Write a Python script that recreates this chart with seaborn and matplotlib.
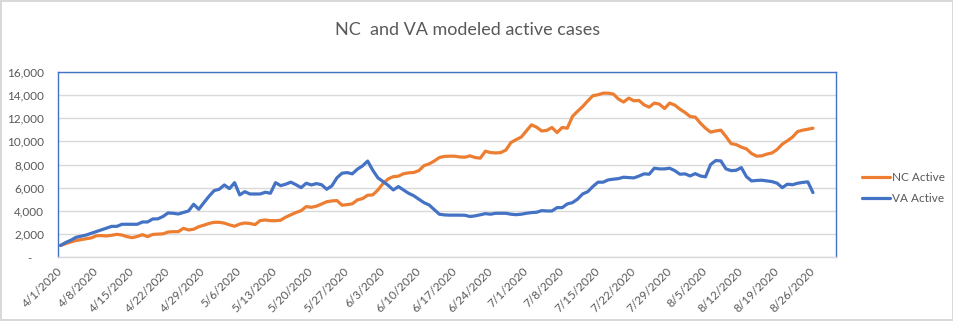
import numpy as np
import pandas as pd
import matplotlib
matplotlib.use("Agg")
import matplotlib.pyplot as plt
from matplotlib.ticker import FuncFormatter, FixedLocator
import seaborn as sns

# Daily modeled active cases, 4/1/2020 through 8/26/2020
start_date = "2020-04-01"
nc_active = [
    1000, 1150, 1300, 1420, 1500, 1580, 1650, 1840, 1850, 1820,
    1880, 1960, 1900, 1760, 1670, 1780, 1930, 1760, 1950, 1980,
    2000, 2160, 2190, 2190, 2480, 2340, 2400, 2620, 2750, 2900,
    3000, 3000, 2930, 2780, 2660, 2850, 2940, 2900, 2800, 3150,
    3200, 3140, 3140, 3180, 3450, 3650, 3850, 4010, 4360, 4300,
    4400, 4580, 4780, 4850, 4880, 4480, 4530, 4600, 4940, 5050,
    5340, 5370, 5800, 6350, 6750, 6950, 6990, 7200, 7280, 7310,
    7470, 7900, 8050, 8300, 8600, 8700, 8720, 8720, 8650, 8630,
    8750, 8600, 8550, 9150, 9030, 9000, 9030, 9250, 9900, 10150,
    10370, 10900, 11430, 11230, 10900, 10950, 11200, 10760, 11200, 11140,
    12150, 12600, 13010, 13500, 13950, 14030, 14170, 14170, 14090, 13660,
    13400, 13740, 13510, 13540, 13160, 12960, 13310, 13220, 12840, 13310,
    13140, 12790, 12500, 12150, 12100, 11580, 11140, 10800, 10900, 10970,
    10420, 9810, 9720, 9500, 9350, 8950, 8720, 8750, 8900, 9000,
    9300, 9760, 10050, 10370, 10850, 10970, 11050, 11140,
]
va_active = [
    1000, 1250, 1450, 1700, 1800, 1900, 2050, 2200, 2350, 2500,
    2650, 2650, 2830, 2830, 2830, 2830, 3030, 3030, 3290, 3300,
    3500, 3810, 3780, 3720, 3850, 3980, 4560, 4130, 4700, 5250,
    5740, 5860, 6230, 5910, 6430, 5370, 5650, 5450, 5450, 5450,
    5600, 5510, 6430, 6170, 6300, 6470, 6250, 6000, 6380, 6230,
    6350, 6250, 5860, 6150, 6850, 7250, 7300, 7190, 7600, 7880,
    8300, 7500, 6850, 6520, 6200, 5800, 6090, 5800, 5510, 5300,
    5000, 4700, 4500, 4100, 3700, 3640, 3620, 3620, 3620, 3610,
    3500, 3560, 3650, 3750, 3700, 3780, 3780, 3780, 3700, 3660,
    3700, 3780, 3840, 3870, 4010, 3980, 3980, 4270, 4270, 4590,
    4700, 5000, 5450, 5650, 6100, 6470, 6470, 6670, 6730, 6780,
    6900, 6870, 6840, 7000, 7190, 7160, 7680, 7620, 7620, 7680,
    7470, 7160, 7190, 7010, 7210, 7010, 6930, 8000, 8340, 8310,
    7620, 7470, 7500, 7730, 6950, 6580, 6620, 6640, 6580, 6520,
    6380, 6000, 6300, 6250, 6380, 6450, 6500, 5570,
]
series_names = ["NC Active", "VA Active"]
series_colors = ["#ED7D31", "#4472C4"]
title_text = "NC  and VA modeled active cases"

dates = pd.date_range(start_date, periods=len(nc_active), freq="D")
n_slots = 152  # category slots on the axis (4/1 .. 8/30)

df = pd.DataFrame({
    "day": np.concatenate([np.arange(len(nc_active)), np.arange(len(va_active))]),
    "cases": nc_active + va_active,
    "series": [series_names[0]] * len(nc_active) + [series_names[1]] * len(va_active),
})

sns.set_style("white")
plt.rcParams["font.family"] = ["Lato", "DejaVu Sans"]

fig = plt.figure(figsize=(9.54, 3.21), dpi=100)
fig.patch.set_facecolor("white")
fig.patch.set_edgecolor("#D9D9D9")
fig.patch.set_linewidth(1.5)

L, R, T, B = 58, 836, 72, 257
ax = fig.add_axes([L / 954, 1 - B / 321, (R - L) / 954, (B - T) / 321])

sns.lineplot(data=df, x="day", y="cases", hue="series",
             palette=dict(zip(series_names, series_colors)),
             linewidth=2.3, ax=ax, legend=True)

ax.set_xlim(-0.5, n_slots - 0.5)
ax.set_ylim(0, 16000)
ax.set_xlabel("")
ax.set_ylabel("")

# horizontal gridlines
ax.yaxis.set_major_locator(FixedLocator(np.arange(0, 16001, 2000)))
ax.grid(axis="y", color="#D9D9D9", linewidth=1.0)
ax.grid(axis="x", visible=False)
ax.set_axisbelow(True)

ax.yaxis.set_major_formatter(FuncFormatter(lambda v, p: "-    " if v == 0 else f"{int(v):,}"))

tick_pos = np.arange(0, len(dates), 7)
ax.set_xticks(tick_pos)
ax.set_xticklabels([f"{d.month}/{d.day}/{d.year}" for d in dates[tick_pos]],
                   rotation=45, ha="right", va="center", rotation_mode="anchor")

ax.tick_params(axis="both", length=0, colors="#595959", labelsize=8.5)
ax.tick_params(axis="x", pad=9)
ax.tick_params(axis="y", pad=10)

for side in ["left", "top", "right"]:
    ax.spines[side].set_color("#4472C4")
    ax.spines[side].set_linewidth(1.0)
ax.spines["bottom"].set_color("#D9D9D9")
ax.spines["bottom"].set_linewidth(1.0)

handles, labels = ax.get_legend_handles_labels()
ax.get_legend().remove()
leg = fig.legend(handles, labels, loc="center left",
                 bbox_to_anchor=(862 / 954, 1 - 188 / 321),
                 bbox_transform=fig.transFigure, frameon=False,
                 fontsize=8.5, handlelength=2.4, handletextpad=0.15,
                 labelspacing=0.85, borderpad=0, borderaxespad=0)
for t in leg.get_texts():
    t.set_color("#595959")
for h in leg.legend_handles:
    h.set_linewidth(2.3)

fig.text(468 / 954, 1 - 30 / 321, title_text, ha="center", va="center",
         fontsize=13, color="#595959")

fig.savefig("out.png", dpi=100, facecolor=fig.get_facecolor(), edgecolor=fig.get_edgecolor())
